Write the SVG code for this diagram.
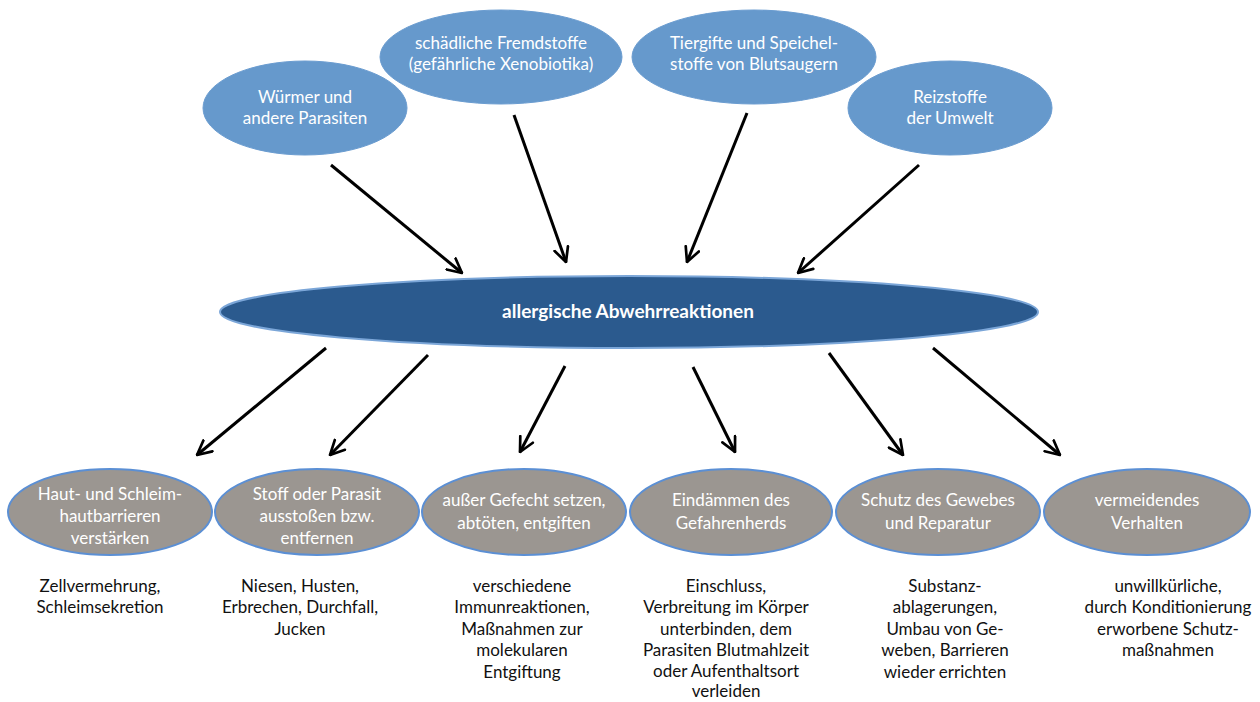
<svg xmlns="http://www.w3.org/2000/svg" width="1260" height="702" viewBox="0 0 1260 702">
<style>
.top{fill:#6699CC;stroke:#6A9CD0;stroke-width:1}
.mid{fill:#2B5A8E;stroke:#7BA6D8;stroke-width:2}
.bot{fill:#9B9691;stroke:#5B8FD4;stroke-width:2}
.wt{font-family:Lato,"Open Sans","Liberation Sans",sans-serif;font-size:17px;fill:#fff;text-anchor:middle}
.bt{font-family:Lato,"Open Sans","Liberation Sans",sans-serif;font-size:17px;fill:#111;text-anchor:middle}
.mt{font-family:Lato,"Open Sans","Liberation Sans",sans-serif;font-size:19px;font-weight:bold;fill:#fff;text-anchor:middle}
.arr{stroke:#000;stroke-width:3;fill:none;marker-end:url(#ah)}
</style>
<defs>
<marker id="ah" viewBox="0 0 12 12" refX="11" refY="6" markerWidth="17" markerHeight="17" markerUnits="userSpaceOnUse" orient="auto">
<path d="M1,1 L11,6 L1,11" fill="none" stroke="#000" stroke-width="1.9" stroke-linecap="round" stroke-linejoin="round"/>
</marker>
</defs>
<rect width="1260" height="702" fill="#fff"/>
<g id="connectors">
<line class="arr" x1="331" y1="165" x2="462" y2="273"/>
<line class="arr" x1="514" y1="115" x2="566" y2="262"/>
<line class="arr" x1="747" y1="113" x2="687" y2="262"/>
<line class="arr" x1="919" y1="165" x2="798" y2="273"/>
<line class="arr" x1="326" y1="348" x2="197" y2="455"/>
<line class="arr" x1="428" y1="355" x2="330" y2="455"/>
<line class="arr" x1="565" y1="366" x2="520" y2="452"/>
<line class="arr" x1="693" y1="367" x2="735" y2="452"/>
<line class="arr" x1="829" y1="353" x2="903" y2="455"/>
<line class="arr" x1="933" y1="348" x2="1060" y2="455"/>
</g>
<g id="n-wuermer">
<ellipse class="top" cx="305" cy="108" rx="102" ry="47"/>
<text class="wt" x="305" y="103">Würmer und</text>
<text class="wt" x="305" y="124">andere Parasiten</text>
</g>
<g id="n-fremdstoffe">
<ellipse class="top" cx="501" cy="57" rx="121" ry="47"/>
<text class="wt" x="501" y="49">schädliche Fremdstoffe</text>
<text class="wt" x="501" y="70">(gefährliche Xenobiotika)</text>
</g>
<g id="n-tiergifte">
<ellipse class="top" cx="754" cy="57" rx="122" ry="47"/>
<text class="wt" x="754" y="49">Tiergifte und Speichel-</text>
<text class="wt" x="754" y="70">stoffe von Blutsaugern</text>
</g>
<g id="n-reizstoffe">
<ellipse class="top" cx="950" cy="108" rx="102" ry="47"/>
<text class="wt" x="950" y="103">Reizstoffe</text>
<text class="wt" x="950" y="124">der Umwelt</text>
</g>
<g id="n-center">
<ellipse class="mid" cx="629" cy="312" rx="409" ry="36"/>
<text class="mt" x="628" y="318">allergische Abwehrreaktionen</text>
</g>
<g id="n-haut">
<ellipse class="bot" cx="110" cy="512" rx="102" ry="43"/>
<text class="wt" x="110" y="500">Haut- und Schleim-</text>
<text class="wt" x="110" y="522">hautbarrieren</text>
<text class="wt" x="110" y="544">verstärken</text>
</g>
<g id="n-stoff">
<ellipse class="bot" cx="317" cy="512" rx="102" ry="43"/>
<text class="wt" x="317" y="500">Stoff oder Parasit</text>
<text class="wt" x="317" y="522">ausstoßen bzw.</text>
<text class="wt" x="317" y="544">entfernen</text>
</g>
<g id="n-ausser">
<ellipse class="bot" cx="524" cy="512" rx="102" ry="43"/>
<text class="wt" x="524" y="506">außer Gefecht setzen,</text>
<text class="wt" x="524" y="529">abtöten, entgiften</text>
</g>
<g id="n-eindaemmen">
<ellipse class="bot" cx="731" cy="512" rx="101" ry="43"/>
<text class="wt" x="731" y="506">Eindämmen des</text>
<text class="wt" x="731" y="529">Gefahrenherds</text>
</g>
<g id="n-schutz">
<ellipse class="bot" cx="938" cy="512" rx="102" ry="43"/>
<text class="wt" x="938" y="506">Schutz des Gewebes</text>
<text class="wt" x="938" y="529">und Reparatur</text>
</g>
<g id="n-vermeiden">
<ellipse class="bot" cx="1147" cy="512" rx="103" ry="43"/>
<text class="wt" x="1147" y="506">vermeidendes</text>
<text class="wt" x="1147" y="529">Verhalten</text>
</g>
<g id="t-col1">
<text class="bt" x="100" y="592">Zellvermehrung,</text>
<text class="bt" x="100" y="613">Schleimsekretion</text>
</g>
<g id="t-col2">
<text class="bt" x="300" y="592">Niesen, Husten,</text>
<text class="bt" x="300" y="613">Erbrechen, Durchfall,</text>
<text class="bt" x="300" y="635">Jucken</text>
</g>
<g id="t-col3">
<text class="bt" x="522" y="592">verschiedene</text>
<text class="bt" x="522" y="613">Immunreaktionen,</text>
<text class="bt" x="522" y="635">Maßnahmen zur</text>
<text class="bt" x="522" y="656">molekularen</text>
<text class="bt" x="522" y="678">Entgiftung</text>
</g>
<g id="t-col4">
<text class="bt" x="726" y="592">Einschluss,</text>
<text class="bt" x="726" y="613">Verbreitung im Körper</text>
<text class="bt" x="726" y="635">unterbinden, dem</text>
<text class="bt" x="726" y="656">Parasiten Blutmahlzeit</text>
<text class="bt" x="726" y="677">oder Aufenthaltsort</text>
<text class="bt" x="726" y="697">verleiden</text>
</g>
<g id="t-col5">
<text class="bt" x="945" y="592">Substanz-</text>
<text class="bt" x="945" y="613">ablagerungen,</text>
<text class="bt" x="945" y="635">Umbau von Ge-</text>
<text class="bt" x="945" y="656">weben, Barrieren</text>
<text class="bt" x="945" y="678">wieder errichten</text>
</g>
<g id="t-col6">
<text class="bt" x="1168" y="592">unwillkürliche,</text>
<text class="bt" x="1168" y="613">durch Konditionierung</text>
<text class="bt" x="1168" y="635">erworbene Schutz-</text>
<text class="bt" x="1168" y="656">maßnahmen</text>
</g>
</svg>
